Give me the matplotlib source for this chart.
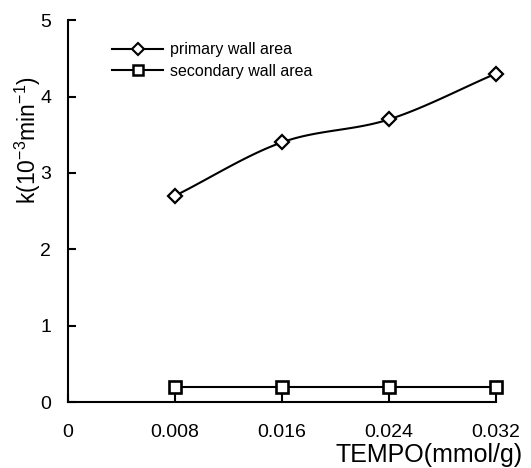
import numpy as np
import matplotlib
matplotlib.use("Agg")
import matplotlib.pyplot as plt
from matplotlib.lines import Line2D

plt.rcParams['font.family'] = ['Liberation Sans', 'DejaVu Sans']
plt.rcParams['mathtext.fontset'] = 'custom'
plt.rcParams['mathtext.rm'] = 'Liberation Sans'

x_vals = [0.008, 0.016, 0.024, 0.032]
primary = [2.7, 3.4, 3.7, 4.3]
secondary = [0.2, 0.2, 0.2, 0.2]
x_ticks = [0, 0.008, 0.016, 0.024, 0.032]
x_tick_labels = ["0", "0.008", "0.016", "0.024", "0.032"]
y_ticks = [0, 1, 2, 3, 4, 5]

def catmull_rom(xs, ys, n=30):
    xs = np.asarray(xs, float); ys = np.asarray(ys, float)
    P = np.column_stack([xs, ys])
    P = np.vstack([P[0] - (P[1] - P[0]), P, P[-1] + (P[-1] - P[-2])])
    out = []
    for i in range(1, len(P) - 2):
        p0, p1, p2, p3 = P[i-1], P[i], P[i+1], P[i+2]
        t = np.linspace(0, 1, n)[:, None]
        seg = 0.5 * ((2*p1) + (-p0 + p2)*t + (2*p0 - 5*p1 + 4*p2 - p3)*t**2 + (-p0 + 3*p1 - 3*p2 + p3)*t**3)
        out.append(seg if i == 1 else seg[1:])
    arr = np.vstack(out)
    return arr[:, 0], arr[:, 1]

fig = plt.figure(figsize=(5.31, 4.68), dpi=100)
ax = fig.add_axes([0.128, 0.141, 0.806, 0.816])

sx, sy = catmull_rom(x_vals, primary)
ax.plot(sx, sy, color='black', lw=1.5, zorder=2, clip_on=False)
ax.plot(x_vals, primary, ls='none', marker='D', ms=7.5, mfc='white', mec='black', mew=1.6, zorder=3, clip_on=False)
ax.plot(x_vals, secondary, color='black', lw=1.5, marker='s', ms=9, mfc='white', mec='black', mew=1.9, zorder=3, clip_on=False)

h1 = Line2D([], [], color='black', lw=1.5, marker='D', ms=6, mfc='white', mec='black', mew=1.5)
h2 = Line2D([], [], color='black', lw=1.5, marker='s', ms=7, mfc='white', mec='black', mew=1.8)
ax.legend([h1, h2], ["primary wall area", "secondary wall area"], loc='upper left',
          bbox_to_anchor=(0.103, 0.942), frameon=False, fontsize=11.5, handlelength=3.2,
          handletextpad=0.45, labelspacing=0.4, borderaxespad=0, borderpad=0)

ax.set_xlim(0, 0.032)
ax.set_ylim(0, 5)
ax.set_xticks(x_ticks)
ax.set_xticklabels(x_tick_labels)
ax.set_yticks(y_ticks)
for s in ['top', 'right']:
    ax.spines[s].set_visible(False)
for s in ['left', 'bottom']:
    ax.spines[s].set_linewidth(1.5)
ax.tick_params(axis='x', direction='in', length=6, width=1.5, pad=16, labelsize=14)
ax.tick_params(axis='y', direction='in', length=6, width=1.5, pad=12, labelsize=14)
ax.set_ylabel(r"k(10$^{\mathregular{-3}}$min$^{\mathregular{-1}}$)", fontsize=16.5)
ax.yaxis.set_label_coords(-0.058, 0.686)
ax.set_xlabel("TEMPO(mmol/g)", fontsize=18)
ax.xaxis.set_label_coords(1.063, -0.157)
ax.xaxis.label.set_horizontalalignment('right')
ax.xaxis.label.set_verticalalignment('baseline')

fig.savefig("out.png", dpi=100)
